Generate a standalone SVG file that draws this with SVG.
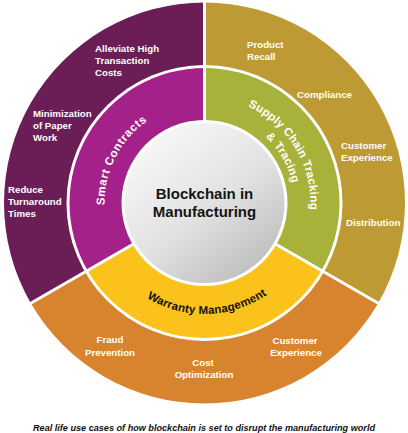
<svg xmlns="http://www.w3.org/2000/svg" width="408" height="433" viewBox="0 0 408 433">
<defs>
<style>
.out{font-family:"Liberation Sans",Arial,sans-serif;font-weight:bold;font-size:9.7px;fill:#ffffff}
.ring{font-family:"Liberation Sans",Arial,sans-serif;font-weight:bold;font-size:11.5px}
.sep{stroke:#ffffff;stroke-width:3;fill:none}
.center{font-family:"Liberation Sans",Arial,sans-serif;font-weight:bold;font-size:15px;fill:#141414}
</style>
<linearGradient id="gray" x1="0.2" y1="0.1" x2="0.85" y2="0.95">
<stop offset="0" stop-color="#f6f6f6"/>
<stop offset="0.5" stop-color="#e2e2e2"/>
<stop offset="1" stop-color="#bcbcbc"/>
</linearGradient>
<path id="pSmart" d="M118.78 254.5 A100 100 0 0 1 195.78 103.38"/>
<path id="pSupply" d="M206.35 97.02 A106 106 0 0 1 298.95 251.12"/>
<path id="pTracing" d="M207.64 113.05 A90 90 0 0 1 283.96 245.26"/>
<path id="pWarranty" d="M110.37 261.82 A111 111 0 0 0 301.58 256.81"/>
</defs>
<rect width="408" height="433" fill="#ffffff"/>

<g id="outer-smart-contracts">
<path d="M204.5 203 L30.87 303.25 A200.5 200.5 0 0 1 204.5 2.5 Z" fill="#6b1e55"/>
<text class="out"><tspan x="95" y="52">Alleviate High</tspan><tspan x="95" y="64">Transaction</tspan><tspan x="95" y="76">Costs</tspan></text>
<text class="out"><tspan x="33" y="117">Minimization</tspan><tspan x="33" y="129">of Paper</tspan><tspan x="33" y="141">Work</tspan></text>
<text class="out"><tspan x="8" y="193">Reduce</tspan><tspan x="8" y="205">Turnaround</tspan><tspan x="8" y="217">Times</tspan></text>
</g>

<g id="outer-supply-chain">
<path d="M204.5 203 L204.5 2.5 A200.5 200.5 0 0 1 378.13 303.25 Z" fill="#bd9a33"/>
<text class="out"><tspan x="247" y="48">Product</tspan><tspan x="247" y="60">Recall</tspan></text>
<text class="out" x="297" y="98">Compliance</text>
<text class="out"><tspan x="341" y="149">Customer</tspan><tspan x="341" y="161">Experience</tspan></text>
<text class="out" x="346" y="226">Distribution</text>
</g>

<g id="outer-warranty">
<path d="M204.5 203 L378.13 303.25 A200.5 200.5 0 0 1 30.87 303.25 Z" fill="#d8832e"/>
<text class="out" text-anchor="middle"><tspan x="110" y="343">Fraud</tspan><tspan x="110" y="356">Prevention</tspan></text>
<text class="out" text-anchor="middle"><tspan x="203" y="366">Cost</tspan><tspan x="204" y="378">Optimization</tspan></text>
<text class="out" text-anchor="middle"><tspan x="295" y="344">Customer</tspan><tspan x="296" y="356">Experience</tspan></text>
</g>

<circle cx="204.5" cy="203" r="138" fill="#ffffff"/>

<g id="smart-contracts">
<path d="M204.5 203 L87.59 270.5 A135 135 0 0 1 204.5 68 Z" fill="#a5218a"/>
<text class="ring" fill="#ffffff" letter-spacing="0.6"><textPath href="#pSmart" startOffset="50%" text-anchor="middle">Smart Contracts</textPath></text>
</g>

<g id="supply-chain">
<path d="M204.5 203 L204.5 68 A135 135 0 0 1 321.41 270.5 Z" fill="#a8b23b"/>
<text class="ring" fill="#ffffff" letter-spacing="0.2"><textPath href="#pSupply" startOffset="50%" text-anchor="middle">Supply Chain Tracking</textPath></text>
<text class="ring" fill="#ffffff" letter-spacing="0.2"><textPath href="#pTracing" startOffset="50%" text-anchor="middle">&amp; Tracing</textPath></text>
</g>

<g id="warranty">
<path d="M204.5 203 L321.41 270.5 A135 135 0 0 1 87.59 270.5 Z" fill="#fbc21b"/>
<text class="ring" fill="#111111" letter-spacing="0.2"><textPath href="#pWarranty" startOffset="50%" text-anchor="middle">Warranty Management</textPath></text>
</g>

<g id="separators">
<line class="sep" x1="204.5" y1="123" x2="204.5" y2="0"/>
<line class="sep" x1="273.78" y1="243" x2="380" y2="304.3"/>
<line class="sep" x1="135.22" y1="243" x2="29" y2="304.3"/>
</g>

<g id="center">
<circle cx="204.5" cy="203" r="83" fill="#ffffff"/>
<circle cx="204.5" cy="203" r="80" fill="url(#gray)"/>
<text class="center" text-anchor="middle"><tspan x="204.5" y="199">Blockchain in</tspan><tspan x="204.5" y="216.5">Manufacturing</tspan></text>
</g>

<text x="204" y="431" text-anchor="middle" textLength="342" lengthAdjust="spacingAndGlyphs" font-family="Liberation Sans, Arial, sans-serif" font-weight="bold" font-style="italic" font-size="9" fill="#111111">Real life use cases of how blockchain is set to disrupt the manufacturing world</text>
</svg>
